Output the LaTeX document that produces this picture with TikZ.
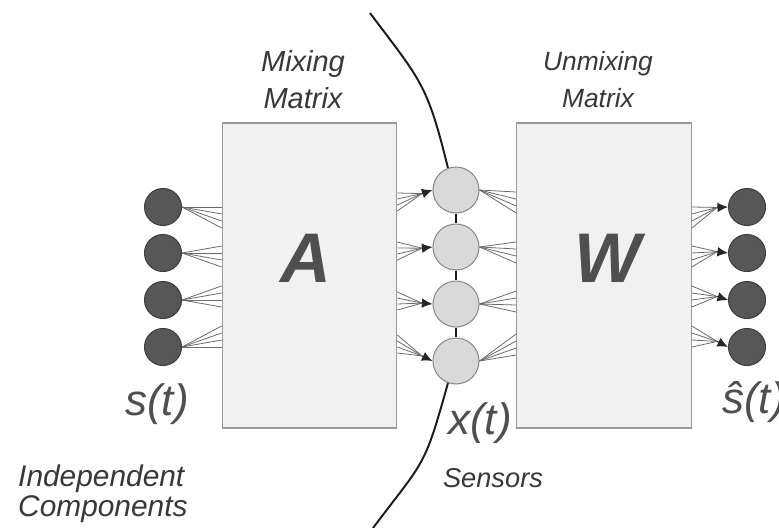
\documentclass[tikz,border=0pt]{standalone}
\usepackage{fontspec}
\setmainfont{Liberation Sans}
\usepackage{xcolor}
\usetikzlibrary{arrows.meta,calc}

\definecolor{boxfill}{HTML}{F1F1F1}
\definecolor{boxline}{HTML}{9A9A9A}
\definecolor{srcfill}{HTML}{575757}
\definecolor{srcline}{HTML}{3F3F3F}
\definecolor{senfill}{HTML}{D9D9D9}
\definecolor{senline}{HTML}{8A8A8A}
\definecolor{fanline}{HTML}{6A6A6A}
\definecolor{txtgray}{HTML}{383838}
\definecolor{biggray}{HTML}{4F4F4F}

\begin{document}
\begin{tikzpicture}[x=0.02cm, y=-0.02cm,
  src/.style={circle, draw=srcline, fill=srcfill, line width=0.6pt, minimum size=0.74cm, inner sep=0pt},
  sensor/.style={circle, draw=senline, fill=senfill, line width=0.6pt, minimum size=0.92cm, inner sep=0pt},
  matbox/.style={draw=boxline, fill=boxfill, line width=0.7pt, minimum width=3.49cm, minimum height=6.1cm, inner sep=0pt},
  fan/.style={draw=fanline, line width=0.45pt},
  arr/.style={-{Latex[length=6pt,width=5.5pt]}, draw=black!85, line width=0.6pt},
  curve/.style={draw=black!90, line width=1.1pt},
  lbl/.style={text=txtgray, font=\fontsize{16.5}{21}\selectfont\itshape},
  sig/.style={text=biggray, font=\fontsize{25}{25}\selectfont\itshape},
  big/.style={text=biggray, font=\fontsize{40}{40}\selectfont\bfseries\itshape}]

\fill[white] (0,0) rectangle (779,528);
\useasboundingbox (0,0) rectangle (779,528);

% mixing and unmixing boxes
\node[matbox] (A) at (309.5,275.5) {};
\node[matbox] (W) at (604,275.5) {};
\node[big] (Alabel) at (306,258) {A};
\node[big] (Wlabel) at (608,258) {W};

% sources
\node[src] (s1) at (163,207) {};
\node[src] (s2) at (163,253) {};
\node[src] (s3) at (163,300) {};
\node[src] (s4) at (163,347) {};

% sensors
\node[sensor] (x1) at (456,190) {};
\node[sensor] (x2) at (456,247) {};
\node[sensor] (x3) at (456,304) {};
\node[sensor] (x4) at (456,361) {};

% estimates
\node[src] (y1) at (747,207) {};
\node[src] (y2) at (747,253) {};
\node[src] (y3) at (747,300) {};
\node[src] (y4) at (747,347) {};

% sources into A
\foreach \i in {1,...,4}
  \foreach \j in {0,...,3}
    \draw[fan] (s\i.east) -- ($(s\i -| A.west)+(0,{7*(\j-\i+1)})$);

% A onto the sensors
\foreach \i/\c in {1/202,2/251,3/301,4/344} {
  \coordinate (m\i) at ($(x\i.west)!0.3!(A.east |- 0,\c)$);
  \foreach \o in {-9,-3,3,9}
    \draw[fan] (A.east |- 0,{\c+\o}) -- (m\i);
  \draw[arr] (m\i) -- (x\i.west);
}

% sensors into W
\foreach \i/\c in {1/202,2/252,3/301,4/344}
  \foreach \o in {-10,-3,4,11}
    \draw[fan] (x\i.east) -- (W.west |- 0,{\c+\o});

% W onto the estimates
\foreach \i in {1,...,4} {
  \coordinate (n\i) at ($(y\i.west)!0.3!(W.east |- 0,{198+47*(\i-1)+10.5-7*(\i-1)})$);
  \foreach \j in {0,...,3}
    \draw[fan] ($(y\i -| W.east)+(0,{7*(\j-\i+1)})$) -- (n\i);
  \draw[arr] (n\i) -- (y\i.west);
}

% sensor line
\coordinate (top) at (370,13);
\coordinate (bot) at (373,528);
\draw[curve] (top) .. controls (421,81) and (427,83) .. (x1.110);
\draw[curve] (x1) -- (x2);
\draw[curve] (x2) -- (x3);
\draw[curve] (x3) -- (x4);
\draw[curve] (x4.250) .. controls (424,469) and (425,459) .. (bot);

% labels
\node[lbl, align=center] (mixlbl) at (303,80) {Mixing\\Matrix};
\node[lbl, align=center, font=\fontsize{15}{21}\selectfont\itshape] (unmixlbl) at (598,80) {Unmixing\\Matrix};
\node[sig] (st) at (157,404) {s(t)};
\node[sig] (xt) at (480,423) {x(t)};
\node[sig, anchor=west] (sht) at (716,402) {ŝ(t)};
\node[lbl, anchor=west, align=left, font=\fontsize{17}{17}\selectfont\itshape] (indep) at (12,494) {Independent\\Components};
\node[lbl, font=\fontsize{15.5}{17}\selectfont\itshape] (senslbl) at (493,478) {Sensors};
\end{tikzpicture}
\end{document}
